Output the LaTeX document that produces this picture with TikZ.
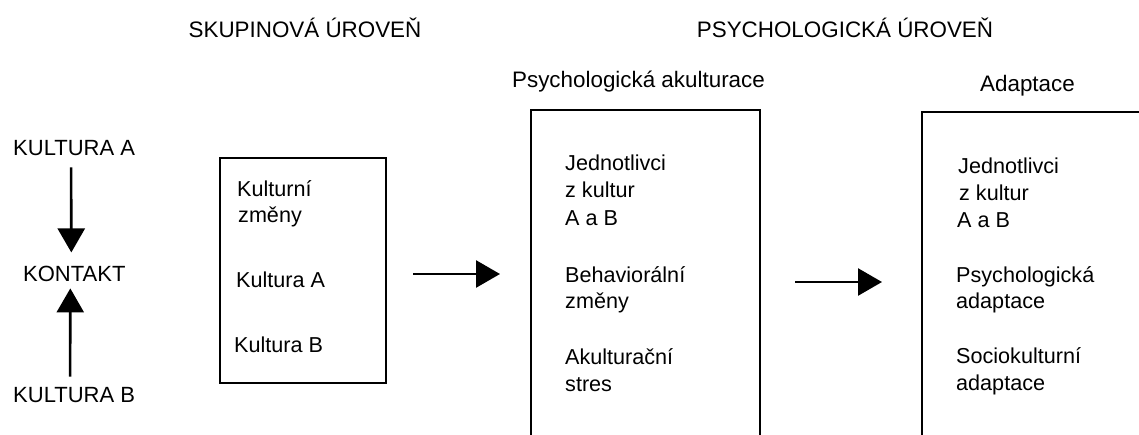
\documentclass[tikz,border=0pt]{standalone}
\usepackage{fontspec}
\setmainfont{Liberation Sans}
\usetikzlibrary{arrows.meta}
\begin{document}
\begin{tikzpicture}[x=1pt,y=-1pt,
  txt/.style={font=\fontsize{22}{26}\selectfont, inner sep=0pt, anchor=base west},
  btxt/.style={font=\fontsize{21.6}{26}\selectfont, inner sep=0pt, anchor=base west},
  hdr/.style={font=\fontsize{22.4}{26}\selectfont, inner sep=0pt, anchor=base},
  arr/.style={line width=2.6pt, -{Triangle[length=24pt,width=27pt]}},
  boxx/.style={draw, line width=1.6pt, inner sep=0pt, outer sep=0pt, anchor=north west}]
\useasboundingbox (0,0) rectangle (1139,434);
\clip (0,0) rectangle (1139,434);
\fill[white] (0,0) rectangle (1139,434);

% headers
\node[hdr] (h1) at (305,37) {SKUPINOVÁ ÚROVEŇ};
\node[hdr] (h2) at (845,37) {PSYCHOLOGICKÁ ÚROVEŇ};
\node[hdr] (h3) at (638.5,87) {Psychologická akulturace};
\node[hdr] (h4) at (1027.5,91) {Adaptace};

% left column
\node[txt] (kA) at (13,155) {KULTURA A};
\node[txt] (kon) at (23,281) {KONTAKT};
\node[txt] (kB) at (13,402) {KULTURA B};
\draw[arr] ([xshift=-3pt,yshift=-12pt]kA.south) -- ([xshift=-3pt,yshift=13pt]kon.north);
\draw[arr] ([xshift=-4pt,yshift=10pt]kB.north) -- ([xshift=-4pt,yshift=-7pt]kon.south);

% boxes
\node[boxx, minimum width=166pt, minimum height=225pt] (box1) at (220,158) {};
\node[boxx, minimum width=229pt, minimum height=328pt] (box2) at (531,110) {};
\node[boxx, minimum width=260pt, minimum height=340pt] (box3) at (922,112) {};

% box 1 text
\node[btxt] (b1a) at (237,196) {Kulturní};
\node[btxt] (b1b) at (238,222.5) {změny};
\node[btxt] (b1c) at (236,287) {Kultura A};
\node[btxt] (b1d) at (234,352) {Kultura B};

% box 2 text
\node[btxt] (b2a) at (565,170) {Jednotlivci};
\node[btxt] (b2b) at (565,197) {z kultur};
\node[btxt] (b2c) at (565,225) {A a B};
\node[btxt] (b2d) at (565,282) {Behaviorální};
\node[btxt] (b2e) at (565,308) {změny};
\node[btxt] (b2f) at (565,364) {Akulturační};
\node[btxt] (b2g) at (565,391) {stres};

% box 3 text
\node[btxt] (b3a) at (958,173) {Jednotlivci};
\node[btxt] (b3b) at (959,200) {z kultur};
\node[btxt] (b3c) at (957,227) {A a B};
\node[btxt] (b3d) at (956,282) {Psychologická};
\node[btxt] (b3e) at (956,308) {adaptace};
\node[btxt] (b3f) at (956,363) {Sociokulturní};
\node[btxt] (b3g) at (956,390) {adaptace};

% horizontal arrows
\draw[arr] ([xshift=27pt]box1.east |- box2.west) -- ([xshift=-31pt]box2.west);
\draw[arr] ([xshift=35pt]box2.east |- box3.west) -- ([xshift=-40pt]box3.west);
\end{tikzpicture}
\end{document}
